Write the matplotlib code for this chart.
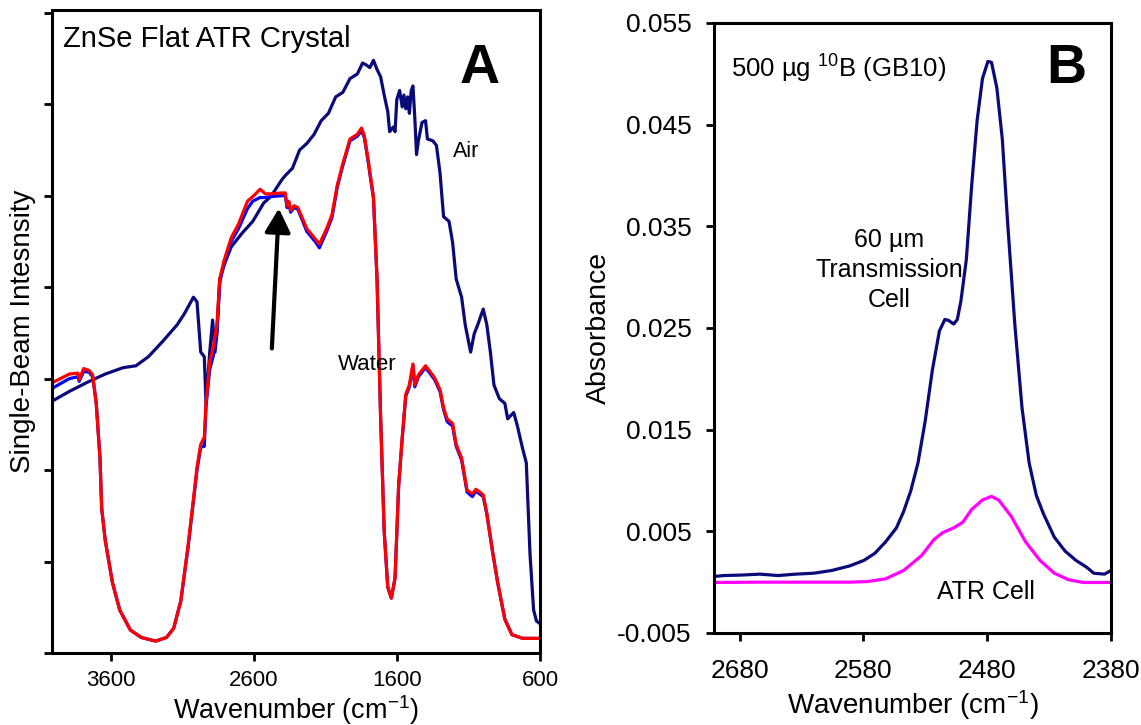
import matplotlib
matplotlib.use("Agg")
import matplotlib.pyplot as plt

plt.rcParams['font.family'] = ['Liberation Sans', 'DejaVu Sans']
plt.rcParams['mathtext.fontset'] = 'custom'
plt.rcParams['mathtext.rm'] = 'Liberation Sans'
plt.rcParams['mathtext.it'] = 'Liberation Sans:italic'
plt.rcParams['mathtext.bf'] = 'Liberation Sans:bold'

# ---------------- Panel A data ----------------
air_wn = [4002, 3889, 3763, 3638, 3512, 3424, 3336, 3235, 3135, 3085, 3022, 2997, 2971,
          2946, 2934, 2908, 2888, 2871, 2858, 2838, 2808, 2758, 2682, 2607, 2531, 2481,
          2406, 2380, 2330, 2280, 2230, 2179, 2129, 2079, 2028, 1978, 1928, 1877, 1840,
          1815, 1789, 1764, 1739, 1714, 1689, 1664, 1651, 1626, 1613, 1601, 1581, 1563,
          1551, 1538, 1525, 1513, 1500, 1488, 1475, 1463, 1450, 1425, 1400, 1387, 1349,
          1324, 1299, 1274, 1236, 1211, 1186, 1148, 1123, 1085, 1060, 1035, 997, 972,
          947, 922, 884, 846, 826, 784, 758, 721, 696, 670, 645, 625, 600]
air_int = [2.76, 2.86, 2.96, 3.05, 3.12, 3.14, 3.24, 3.41, 3.59, 3.71, 3.89, 3.84, 3.29,
           3.24, 2.73, 3.29, 3.64, 3.29, 3.49, 4.09, 4.24, 4.44, 4.59, 4.72, 4.92, 4.99,
           5.17, 5.22, 5.30, 5.50, 5.57, 5.67, 5.82, 5.90, 6.08, 6.13, 6.28, 6.33, 6.45,
           6.43, 6.40, 6.48, 6.38, 6.30, 6.10, 5.92, 5.70, 5.75, 5.70, 6.05, 6.15, 5.97,
           6.10, 5.95, 6.08, 5.90, 6.15, 6.20, 5.85, 5.45, 5.60, 5.80, 5.82, 5.62, 5.60,
           5.55, 5.25, 4.77, 4.72, 4.49, 4.09, 3.89, 3.59, 3.29, 3.49, 3.59, 3.76, 3.59,
           3.29, 2.93, 2.78, 2.73, 2.56, 2.63, 2.48, 2.23, 2.08, 1.08, 0.47, 0.35, 0.32]

water_wn = [4002, 3889, 3830, 3820, 3789, 3751, 3726, 3701, 3675, 3663, 3638, 3588, 3537,
            3462, 3386, 3286, 3210, 3160, 3110, 3059, 3022, 2997, 2971, 2946, 2934, 2908,
            2883, 2858, 2838, 2808, 2758, 2707, 2644, 2607, 2556, 2519, 2481, 2406, 2380,
            2368, 2355, 2343, 2318, 2292, 2230, 2167, 2142, 2091, 2054, 2016, 1978, 1928,
            1877, 1847, 1827, 1802, 1764, 1739, 1714, 1689, 1664, 1639, 1613, 1588, 1563,
            1538, 1513, 1488, 1475, 1450, 1425, 1400, 1375, 1337, 1299, 1274, 1249, 1211,
            1186, 1148, 1110, 1073, 1048, 997, 972, 934, 896, 846, 796, 721, 600]
water_red = [2.96, 3.05, 3.06, 2.99, 3.11, 3.09, 3.04, 2.73, 2.13, 1.58, 1.23, 0.77, 0.47,
             0.25, 0.17, 0.13, 0.17, 0.27, 0.57, 1.18, 1.68, 2.03, 2.28, 2.36, 2.73, 3.19,
             3.34, 3.59, 4.09, 4.29, 4.54, 4.69, 4.94, 4.99, 5.07, 5.02, 5.02, 5.03, 5.03,
             4.89, 4.94, 4.84, 4.89, 4.87, 4.64, 4.52, 4.47, 4.64, 4.79, 5.12, 5.35, 5.62,
             5.67, 5.74, 5.65, 5.40, 4.99, 4.09, 2.58, 1.33, 0.72, 0.60, 0.82, 1.83, 2.36,
             2.83, 2.93, 3.16, 2.93, 3.04, 3.09, 3.14, 3.09, 3.01, 2.88, 2.68, 2.56, 2.51,
             2.28, 2.13, 1.78, 1.74, 1.79, 1.73, 1.53, 1.13, 0.77, 0.37, 0.20, 0.16, 0.16]
water_blue = [2.90, 3.00, 3.02, 2.97, 3.08, 3.07, 3.02, 2.73, 2.13, 1.58, 1.23, 0.77, 0.47,
              0.25, 0.17, 0.13, 0.17, 0.27, 0.57, 1.16, 1.66, 2.00, 2.25, 2.26, 2.70, 3.10,
              3.25, 3.50, 4.05, 4.26, 4.50, 4.64, 4.86, 4.94, 4.98, 4.98, 4.99, 5.00, 5.00,
              4.87, 4.92, 4.82, 4.87, 4.85, 4.61, 4.49, 4.43, 4.61, 4.76, 5.10, 5.33, 5.60,
              5.65, 5.71, 5.63, 5.38, 4.97, 4.09, 2.58, 1.33, 0.72, 0.60, 0.82, 1.83, 2.34,
              2.81, 2.91, 3.14, 2.91, 3.02, 3.07, 3.12, 3.07, 2.99, 2.86, 2.66, 2.53, 2.48,
              2.26, 2.11, 1.76, 1.71, 1.77, 1.71, 1.52, 1.13, 0.77, 0.37, 0.20, 0.16, 0.16]

a_xticks = [3600, 2600, 1600, 600]

# ---------------- Panel B data ----------------
trans_wn = [2700.6, 2692.5, 2678, 2663.5, 2649, 2634.5, 2620, 2605.5, 2591, 2579.4, 2570.7,
            2562, 2553.3, 2547.5, 2541.7, 2535.9, 2530.1, 2524.3, 2518.6, 2514.2, 2511.3,
            2507, 2504.1, 2501.2, 2496.8, 2492.5, 2488.1, 2483.8, 2479.4, 2476.5, 2472.2,
            2467.8, 2463.5, 2457.7, 2451.9, 2446.1, 2440.3, 2434.5, 2425.8, 2417.1, 2408.4,
            2399.7, 2393.9, 2385.2, 2380]
trans_abs = [0.00056, 0.00065, 0.0007, 0.00079, 0.00065, 0.00079, 0.00088, 0.00115, 0.0016,
             0.00215, 0.00284, 0.00397, 0.00534, 0.00694, 0.00899, 0.01172, 0.01582, 0.02083,
             0.0247, 0.02584, 0.02575, 0.02539, 0.02584, 0.02767, 0.03177, 0.03905, 0.04543,
             0.04954, 0.05122, 0.05113, 0.04862, 0.04361, 0.03541, 0.02539, 0.01719, 0.01172,
             0.00853, 0.00671, 0.00443, 0.00306, 0.00215, 0.00147, 0.00088, 0.00079, 0.00115]

atr_wn = [2700.6, 2663.5, 2591, 2576.5, 2562, 2547.5, 2533, 2522.9, 2515.7, 2507, 2499.7,
          2492.5, 2483.8, 2476.5, 2470.7, 2460.6, 2449, 2437.4, 2425.8, 2414.2, 2402.6, 2380]
atr_abs = [-0.00003, 0.0, 0.0, 0.00006, 0.00033, 0.00115, 0.00261, 0.0042, 0.00489, 0.00534,
           0.00589, 0.00716, 0.00808, 0.00844, 0.00808, 0.00648, 0.00397, 0.00215, 0.00088,
           0.00024, -0.00003, -0.00003]

b_xticks = [2680, 2580, 2480, 2380]
b_yticks = [-0.005, 0.005, 0.015, 0.025, 0.035, 0.045, 0.055]

NAVY = '#0a0a78'

fig = plt.figure(figsize=(11.41, 7.25), dpi=100)
axA = fig.add_axes([0.0456, 0.0993, 0.4277, 0.8869])
axB = fig.add_axes([0.6258, 0.1269, 0.3479, 0.8414])

# ---- Panel A ----
axA.plot(air_wn, air_int, color=NAVY, lw=2.3)
axA.plot(water_wn, water_blue, color='#0000ff', lw=2.3)
axA.plot(water_wn, water_red, color='#ff0000', lw=2.3)
axA.set_xlim(4010, 600)
axA.set_ylim(0, 7.03)
axA.set_xticks(a_xticks)
axA.set_xticklabels([str(t) for t in a_xticks], fontsize=16)
axA.set_yticks(range(0, 8))
axA.set_yticklabels([])
axA.tick_params(direction='out', length=6, width=2, pad=6)
for s in axA.spines.values():
    s.set_linewidth(2.2)
axA.set_xlabel(r'Wavenumber (cm$\mathregular{^{-1}}$)', fontsize=19.5)
axA.xaxis.set_label_coords(0.5, -0.0625)
axA.set_ylabel('Single-Beam Intesnsity', fontsize=20)
axA.yaxis.set_label_coords(-0.032, 0.5)
axA.text(3933, 6.71, 'ZnSe Flat ATR Crystal', fontsize=21, va='center', ha='left')
axA.text(1025, 6.38, 'A', fontsize=40, fontweight='bold', va='center', ha='center')
axA.text(1210, 5.48, 'Air', fontsize=15.5, va='center', ha='left')
axA.text(2010, 3.15, 'Water', fontsize=16, va='center', ha='left')
axA.annotate('', xy=(2425, 4.86), xytext=(2474, 3.33),
             arrowprops=dict(arrowstyle='-|>,head_length=1.2,head_width=0.65',
                             color='black', lw=3, shrinkA=0, shrinkB=0,
                             mutation_scale=12))

# ---- Panel B ----
axB.plot(trans_wn, trans_abs, color=NAVY, lw=2.3)
axB.plot(atr_wn, atr_abs, color='#ff00ff', lw=2.3)
axB.set_xlim(2700.6, 2380)
axB.set_ylim(-0.005, 0.055)
axB.set_xticks(b_xticks)
axB.set_xticklabels([str(t) for t in b_xticks], fontsize=19)
axB.set_yticks(b_yticks)
axB.set_yticklabels(['%.3f' % t for t in b_yticks], fontsize=19)
axB.tick_params(axis='x', direction='out', length=6, width=2, pad=13)
axB.tick_params(axis='y', direction='out', length=6, width=2, pad=10)
for s in axB.spines.values():
    s.set_linewidth(2.2)
axB.set_xlabel(r'Wavenumber (cm$\mathregular{^{-1}}$)', fontsize=20)
axB.xaxis.set_label_coords(0.5, -0.09)
axB.set_ylabel('Absorbance', fontsize=20.5)
axB.yaxis.set_label_coords(-0.257, 0.5)
axB.text(2687, 0.0505, r'500 µg $\mathregular{^{10}}$B (GB10)', fontsize=18.5,
         va='center', ha='left')
axB.text(2416, 0.0505, 'B', fontsize=40, fontweight='bold', va='center', ha='center')
axB.text(2559, 0.0307, '60 µm\nTransmission\nCell', fontsize=18, va='center',
         ha='center', linespacing=1.3)
axB.text(2481, -0.001, 'ATR Cell', fontsize=18, va='center', ha='center')

fig.savefig('out.png', dpi=100)
